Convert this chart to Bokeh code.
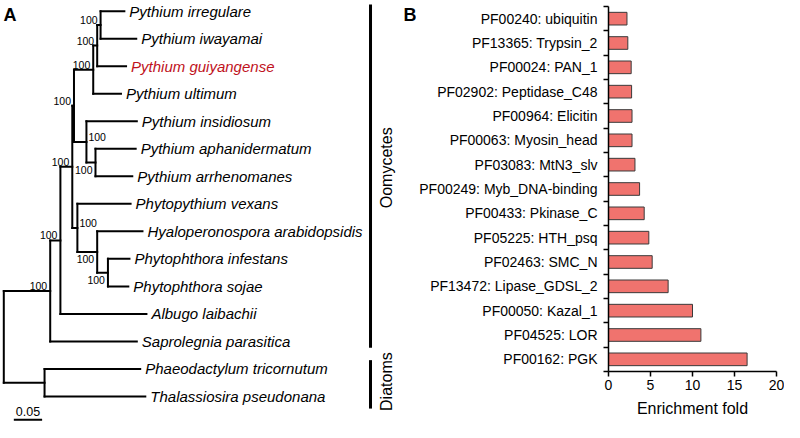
import math
from bokeh.plotting import figure
from bokeh.models import Range1d, FixedTicker
from bokeh.layouts import row
from bokeh.embed import file_html
from bokeh.resources import INLINE
from bokeh.core.properties import value

# ---------------- Panel A: phylogenetic tree data ----------------
taxa = [
    "Pythium irregulare", "Pythium iwayamai", "Pythium guiyangense",
    "Pythium ultimum", "Pythium insidiosum", "Pythium aphanidermatum",
    "Pythium arrhenomanes", "Phytopythium vexans",
    "Hyaloperonospora arabidopsidis", "Phytophthora infestans",
    "Phytophthora sojae", "Albugo laibachii", "Saprolegnia parasitica",
    "Phaeodactylum tricornutum", "Thalassiosira pseudonana",
]
taxon_branch = [0.042, 0.063, 0.051, 0.049, 0.089, 0.071, 0.065, 0.094,
                0.080, 0.038, 0.036, 0.152, 0.153, 0.169, 0.178]
highlight_taxon = "Pythium guiyangense"

node_names = ["n1", "n2", "n3", "n4", "n5", "n6", "n7", "n8", "n9",
              "n10", "n11", "n12", "n13", "root"]
node_children = [
    ["Pythium irregulare", "Pythium iwayamai"],
    ["n1", "Pythium guiyangense"],
    ["n2", "Pythium ultimum"],
    ["Pythium aphanidermatum", "Pythium arrhenomanes"],
    ["Pythium insidiosum", "n4"],
    ["n3", "n5"],
    ["Phytophthora infestans", "Phytophthora sojae"],
    ["Hyaloperonospora arabidopsidis", "n7"],
    ["Phytopythium vexans", "n8"],
    ["n6", "n9"],
    ["n10", "Albugo laibachii"],
    ["n11", "Saprolegnia parasitica"],
    ["Phaeodactylum tricornutum", "Thalassiosira pseudonana"],
    ["n12", "n13"],
]
node_branch = [0.006, 0.007, 0.034, 0.016, 0.022, 0.003, 0.019, 0.035,
               0.009, 0.021, 0.018, 0.082, 0.072, 0.0]
node_support = [100, 100, 100, 100, 100, 100, 100, 100, 100, 100, 100, 100, None, None]
support_side = ["ul", "ul", "ul", "ll", "ur", "ul", "ll", "ll", "ur", "ul", "ul", "ul", None, None]

scale_bar_length = 0.05
clade_names = ["Oomycetes", "Diatoms"]
panel_labels = ["A", "B"]

# ---------------- Panel B: Pfam enrichment data ----------------
domains = [
    "PF00240: ubiquitin", "PF13365: Trypsin_2", "PF00024: PAN_1",
    "PF02902: Peptidase_C48", "PF00964: Elicitin", "PF00063: Myosin_head",
    "PF03083: MtN3_slv", "PF00249: Myb_DNA-binding", "PF00433: Pkinase_C",
    "PF05225: HTH_psq", "PF02463: SMC_N", "PF13472: Lipase_GDSL_2",
    "PF00050: Kazal_1", "PF04525: LOR", "PF00162: PGK",
]
enrichment = [2.2, 2.3, 2.7, 2.75, 2.8, 2.8, 3.15, 3.7, 4.25, 4.8, 5.2,
              7.1, 10.0, 11.0, 16.5]
x_ticks = [0, 5, 10, 15, 20]

FONT = value("Liberation Sans")

# ---------------- tree layout ----------------
children = dict(zip(node_names, node_children))
blen = dict(zip(taxa, taxon_branch))
blen.update(zip(node_names, node_branch))
parent = {c: n for n, cs in children.items() for c in cs}

depth = {}
def set_depth(n, d):
    depth[n] = d
    for c in children.get(n, []):
        set_depth(c, d + blen[c])
set_depth("root", 0.0)

ypos = {t: i for i, t in enumerate(taxa)}
def get_y(n):
    if n in ypos:
        return ypos[n]
    ys = [get_y(c) for c in children[n]]
    ypos[n] = (min(ys) + max(ys)) / 2.0
    return ypos[n]
get_y("root")

x0, y0, x1, y1 = [], [], [], []
for n in list(taxa) + node_names:
    if n in parent:
        x0.append(depth[parent[n]]); x1.append(depth[n])
        y0.append(ypos[n]); y1.append(ypos[n])
for n in node_names:
    ys_ = [ypos[c] for c in children[n]]
    x0.append(depth[n]); x1.append(depth[n])
    y0.append(min(ys_)); y1.append(max(ys_))

W1, W2, H = 416, 368, 422

pa = figure(width=W1, height=H, x_range=Range1d(-0.00583, 0.72915),
            y_range=Range1d(14.946, -0.389), output_backend="svg",
            toolbar_location=None, x_axis_location=None, y_axis_location=None,
            min_border=0)
pa.grid.visible = False
pa.outline_line_color = None

pa.segment(x0=x0, y0=y0, x1=x1, y1=y1, line_width=2, line_color="black",
           line_cap="square")

pa.text(x=[depth[t] for t in taxa], y=[ypos[t] for t in taxa], text=taxa,
        x_offset=5, text_baseline="middle", text_align="left",
        text_font=FONT, text_font_style="italic", text_font_size="15px",
        text_color=["#C0121C" if t == highlight_taxon else "black" for t in taxa])

side_style = {
    "ul": dict(text_align="right", text_baseline="bottom", x_offset=-3, y_offset=-1),
    "ur": dict(text_align="left", text_baseline="bottom", x_offset=2, y_offset=-1),
    "ll": dict(text_align="right", text_baseline="top", x_offset=-3, y_offset=3),
}
for side, st in side_style.items():
    sel = [n for n, s, v in zip(node_names, support_side, node_support)
           if s == side and v is not None]
    pa.text(x=[depth[n] for n in sel], y=[ypos[n] for n in sel],
            text=[str(node_support[node_names.index(n)]) for n in sel],
            text_font=FONT, text_font_size="10.5px", text_color="black", **st)

# scale bar
sb_x = 0.0177
sb_y = 14.85
pa.segment(x0=[sb_x], y0=[sb_y], x1=[sb_x + scale_bar_length], y1=[sb_y],
           line_width=2, line_color="black")
pa.text(x=[sb_x + scale_bar_length / 2], y=[14.56], text=[f"{scale_bar_length:.2f}"],
        text_align="center", text_baseline="middle", text_font=FONT,
        text_font_size="12.5px")

# clade bars
bar_x = 0.6479
pa.segment(x0=[bar_x, bar_x], y0=[-0.247, 12.68], x1=[bar_x, bar_x], y1=[12.23, 14.44],
           line_width=3, line_color="black")
pa.text(x=[0.6753, 0.6753], y=[5.69, 13.46], text=clade_names, angle=math.pi / 2,
        text_align="center", text_baseline="middle", text_font=FONT,
        text_font_size="16px")

# panel letters (B sits just right of the tree, above panel B's labels)
pa.text(x=[-0.0005, 0.7062], y=[0.152, 0.152], text=panel_labels, text_align="left",
        text_baseline="alphabetic", text_font=FONT, text_font_style="bold",
        text_font_size="18px")

# ---------------- Panel B: bar chart ----------------
n = len(domains)
ys = [n - 1 - i for i in range(n)]

pb = figure(width=W2, height=H, x_range=Range1d(0, 20), y_range=Range1d(-0.5, n - 0.5),
            output_backend="svg", toolbar_location=None,
            min_border_left=174, min_border_right=8, min_border_top=6,
            min_border_bottom=51)
pb.grid.visible = False
pb.outline_line_color = None

pb.hbar(y=ys, right=enrichment, left=0, height=0.52, fill_color="#F0736E",
        line_color="#3a3a3a", line_width=1)

pb.yaxis.ticker = FixedTicker(ticks=list(range(n)),
                              minor_ticks=[i - 0.5 for i in range(n + 1)])
pb.yaxis.major_label_overrides = {y: d for y, d in zip(ys, domains)}
pb.yaxis.major_tick_out = 0
pb.yaxis.major_tick_in = 0
pb.yaxis.minor_tick_out = 5
pb.yaxis.minor_tick_in = 0
pb.yaxis.minor_tick_line_width = 1.5
pb.yaxis.minor_tick_line_color = "black"
pb.yaxis.major_label_standoff = 6

pb.xaxis.ticker = FixedTicker(ticks=x_ticks, minor_ticks=[])
pb.xaxis.major_tick_out = 5
pb.xaxis.major_tick_in = 0
pb.xaxis.major_tick_line_width = 1.5
pb.xaxis.major_tick_line_color = "black"
pb.xaxis.major_label_standoff = 3
pb.xaxis.axis_label = "Enrichment fold"
pb.xaxis.axis_label_text_font_style = "normal"
pb.xaxis.axis_label_text_font_size = "16px"
pb.xaxis.axis_label_text_font = "Liberation Sans"
pb.xaxis.axis_label_text_color = "black"
pb.xaxis.axis_label_standoff = 7

for ax in (pb.xaxis, pb.yaxis):
    ax.axis_line_width = 1.5
    ax.axis_line_color = "black"
    ax.major_label_text_font = "Liberation Sans"
    ax.major_label_text_font_size = "14px"
    ax.major_label_text_color = "black"

for p in (pa, pb):
    try:
        p.frame_align = False
    except Exception:
        pass

layout = row(pa, pb)
open("out.html", "w").write(file_html(layout, INLINE, "chart"))
